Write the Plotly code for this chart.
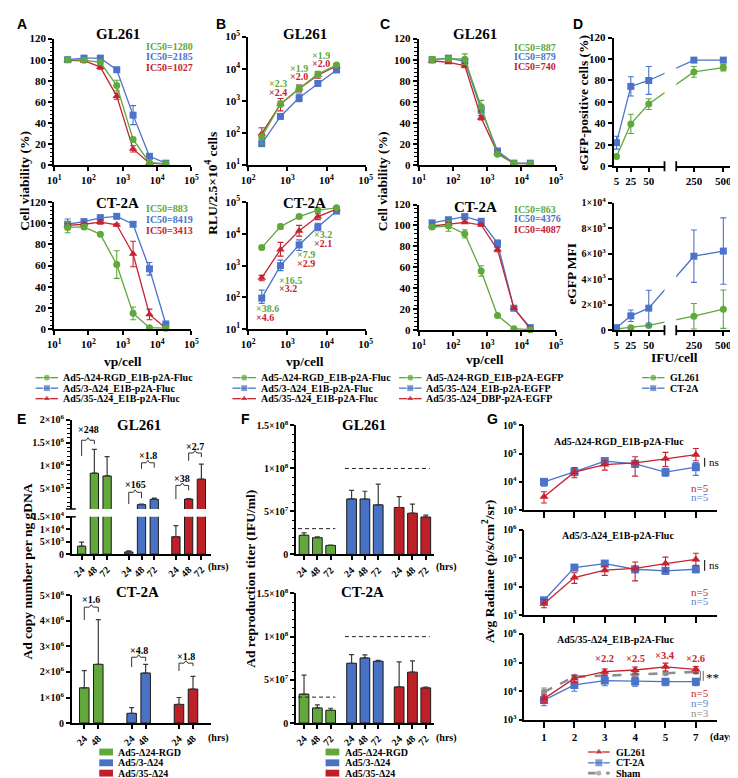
import plotly.graph_objects as go

W, H = 738, 778
def px(x): return x / W
def py(y): return 1 - y / H

SERIF = "Liberation Serif"
SANS = "Liberation Sans"
GREEN = "#5FA83B"
BLUE = "#4B73C9"
RED = "#C62230"
GRAY = "#8E8E8E"
BAR_GREEN = "#62A83A"
BAR_BLUE = "#4A72C4"
BAR_RED = "#BD2127"

# ---------------- data ----------------
vp_cell = [24.7, 74, 222, 667, 2000, 6000, 18000]
# A: Fluc viruses, cell viability (%)
a_gl_rgd = [100, 99.5, 97.5, 75.5, 24.5, 2.5, 1.5]
a_gl_rgd_e = [1, 1, 2, 5, 2, 0.5, 0.5]
a_gl_ad53 = [100, 101.5, 101.5, 90.5, 47.5, 8.5, 2]
a_gl_ad53_e = [1, 1, 1.5, 2, 9, 1, 0.5]
a_gl_ad535 = [99.5, 99, 93, 65.5, 15.5, 2, 1]
a_gl_ad535_e = [1, 1, 2, 3, 3, 0.5, 0.5]
a_ct_rgd = [96, 96.5, 89.5, 61, 15, 1.5, 1]
a_ct_rgd_e = [5, 2, 1, 13, 6, 0.5, 0.5]
a_ct_ad53 = [99, 101.5, 105, 106.5, 99, 57, 5]
a_ct_ad53_e = [5, 2, 3, 2, 2, 6, 1]
a_ct_ad535 = [98, 99, 101, 98.5, 71, 14, 1]
a_ct_ad535_e = [2, 1, 2, 1, 12, 5, 0.5]
a_ic50_gl = ["IC50=1280", "IC50=2185", "IC50=1027"]
a_ic50_ct = ["IC50=883", "IC50=8419", "IC50=3413"]

# B: luciferase RLU
vp_cell_b = [222, 667, 2000, 6000, 18000]
b_gl_rgd = [76, 800, 2450, 6800, 13000]
b_gl_rgd_up = [70, 200, 600, 1500, 1500]
b_gl_rgd_dn = [30, 150, 500, 1200, 1500]
b_gl_ad535 = [96, 790, 2400, 6300, 12300]
b_gl_ad535_up = [50, 400, 700, 1500, 1500]
b_gl_ad535_dn = [30, 300, 500, 1200, 1500]
b_gl_ad53 = [47, 330, 1250, 3500, 9200]
b_gl_ad53_up = [8, 40, 400, 800, 800]
b_gl_ad53_dn = [8, 40, 300, 600, 800]
b_ct_rgd = [3700, 17000, 35000, 56000, 66000]
b_ct_rgd_up = [500, 3000, 4000, 6000, 6000]
b_ct_rgd_dn = [400, 3000, 4000, 6000, 6000]
b_ct_ad535 = [415, 3200, 12500, 35000, 60000]
b_ct_ad535_up = [80, 2200, 6000, 8000, 6000]
b_ct_ad535_dn = [80, 1200, 4000, 7000, 6000]
b_ct_ad53 = [95, 1000, 4500, 16500, 52000]
b_ct_ad53_up = [75, 500, 2000, 5000, 5000]
b_ct_ad53_dn = [30, 300, 1500, 4000, 5000]
b_gl_fold_rgd = ["×2.3", "×1.9", "×1.9"]
b_gl_fold_ad535 = ["×2.4", "×2.0", "×2.0"]
b_ct_fold_rgd = ["×38.6", "×16.5", "×7.9", "×3.2"]
b_ct_fold_ad535 = ["×4.6", "×3.2", "×2.9", "×2.1"]

# C: EGFP viruses, cell viability (%)
c_gl_rgd = [100, 101, 100.5, 55.5, 10.5, 2, 1.5]
c_gl_rgd_e = [3, 2, 5, 6, 1, 0.5, 0.5]
c_gl_e1b = [100, 101.5, 98.5, 52.5, 13.5, 2, 2]
c_gl_e1b_e = [2, 1, 2, 3, 1.5, 0.5, 0.5]
c_gl_dbp = [99, 97.5, 94.5, 45, 11.5, 1.5, 1.5]
c_gl_dbp_e = [1, 1, 2, 2, 1, 0.5, 0.5]
c_ct_rgd = [98.5, 99.5, 92, 56.5, 14, 1.5, 0.5]
c_ct_rgd_e = [2, 5, 4, 5, 1, 0.5, 0.5]
c_ct_e1b = [102.5, 105.5, 108.5, 104, 83, 21, 2.5]
c_ct_e1b_e = [2, 1, 1, 1, 3, 1, 0.5]
c_ct_dbp = [99.5, 101.5, 103, 100.5, 77, 21, 1.5]
c_ct_dbp_e = [1, 1, 1, 1, 2, 1, 0.5]
c_ic50_gl = ["IC50=887", "IC50=879", "IC50=740"]
c_ic50_ct = ["IC50=863", "IC50=4376", "IC50=4087"]

# D: eGFP
ifu_cell = [5, 25, 50, 250, 500]
d_pos_gl = [9, 39.5, 58, 88, 92]
d_pos_gl_e = [1.5, 9, 5, 5, 3]
d_pos_ct = [22, 74.5, 80, 99, 99]
d_pos_ct_e = [6, 9, 13, 1, 1]
d_mfi_gl = [100, 200, 380, 1100, 1650]
d_mfi_gl_e = [50, 80, 150, 1000, 1500]
d_mfi_ct = [200, 1130, 1730, 5800, 6200]
d_mfi_ct_e = [100, 450, 1400, 2050, 2600]

# E: Ad copy number per ng gDNA
hrs3 = ["24", "48", "72"]
hrs2 = ["24", "48"]
e_gl = [[3200, 830000, 770000], [880, 145000, 260000], [7000, 265000, 700000]]
e_gl_e = [[1600, 520000, 420000], [450, 12000, 25000], [4500, 12000, 330000]]
e_ct = [[1.38e6, 2.3e6], [0.38e6, 1.96e6], [0.73e6, 1.33e6]]
e_ct_e = [[0.67e6, 1.75e6], [0.22e6, 0.34e6], [0.27e6, 0.5e6]]
e_gl_fold = ["×248", "×165", "×1.8", "×38", "×2.7"]
e_ct_fold = ["×1.6", "×4.8", "×1.8"]

# F: reproduction titer (IFU/ml)
f_gl = [[22.3e6, 19.5e6, 10.5e6], [64.6e6, 64.5e6, 57.7e6], [54.6e6, 48e6, 43.5e6]]
f_gl_e = [[2.7e6, 1e6, 0.5e6], [10e6, 9e6, 24e6], [12.7e6, 10.5e6, 2.3e6]]
f_ct = [[33.5e6, 17.5e6, 14.8e6], [69.2e6, 75.3e6, 71.5e6], [41.8e6, 58.9e6, 40.7e6]]
f_ct_e = [[22e6, 3.5e6, 2.3e6], [10e6, 3.5e6, 1e6], [29e6, 13e6, 0.8e6]]
f_ref = [3e7, 1e8, 1e8]

# G: in vivo radiance
days = ["1", "2", "3", "4", "5", "7"]
g1_gl = [3000, 22000, 41000, 47000, 65000, 91000]
g1_gl_up = [1500, 10000, 15000, 30000, 45000, 60000]
g1_gl_dn = [1200, 8000, 15000, 31000, 30000, 35000]
g1_ct = [10000, 22500, 54000, 43000, 22000, 33000]
g1_ct_up = [3000, 8000, 15000, 15000, 8000, 15000]
g1_ct_dn = [3000, 6000, 10000, 10000, 6000, 16000]
g2_gl = [2500, 21000, 38000, 44000, 65000, 91000]
g2_gl_up = [1000, 10000, 15000, 30000, 45000, 60000]
g2_gl_dn = [700, 8000, 13000, 28000, 30000, 35000]
g2_ct = [3300, 47000, 65000, 41000, 36000, 41000]
g2_ct_up = [800, 8000, 8000, 10000, 8000, 10000]
g2_ct_dn = [800, 8000, 8000, 10000, 8000, 10000]
g3_gl = [5500, 28000, 48000, 55000, 71000, 58000]
g3_gl_up = [2000, 8000, 12000, 15000, 25000, 15000]
g3_gl_dn = [1500, 8000, 12000, 15000, 20000, 15000]
g3_ct = [4900, 16500, 23500, 22000, 21500, 21500]
g3_ct_up = [2000, 9000, 10000, 8000, 6000, 6000]
g3_ct_dn = [1800, 6500, 8000, 7000, 6000, 6000]
g3_sham = [9500, 32000, 35000, 38000, 42000, 48000]
g3_sham_up = [3500, 5000, 5000, 5000, 5000, 5000]
g3_sham_dn = [3000, 5000, 5000, 5000, 5000, 5000]
g3_fold = ["×2.2", "×2.5", "×3.4", "×2.6"]

fluc_names = ["Ad5-Δ24-RGD_E1B-p2A-Fluc", "Ad5/3-Δ24_E1B-p2A-Fluc", "Ad5/35-Δ24_E1B-p2A-Fluc"]
egfp_names = ["Ad5-Δ24-RGD_E1B-p2A-EGFP", "Ad5/35-Δ24_E1B-p2A-EGFP", "Ad5/35-Δ24_DBP-p2A-EGFP"]
bar_names = ["Ad5-Δ24-RGD", "Ad5/3-Δ24", "Ad5/35-Δ24"]

# ---------------- helpers ----------------
fig = go.Figure()
layout = {}
shapes = []
ann = []

def xn(i): return 'x' if i == 1 else f'x{i}'
def yn(i): return 'y' if i == 1 else f'y{i}'

TICKFONT = dict(family=SERIF, size=11, color='black', weight='bold')
def ax(**kw):
    d = dict(showline=True, linecolor='black', linewidth=1.8, ticks='outside', ticklen=4,
             tickwidth=1.5, tickcolor='black', showgrid=False, zeroline=False, fixedrange=True,
             tickfont=TICKFONT)
    d.update(kw)
    return d

def place(i, xd, yd, xa, ya):
    xk = 'xaxis' if i == 1 else f'xaxis{i}'
    yk = 'yaxis' if i == 1 else f'yaxis{i}'
    layout[xk] = dict(xa, domain=[px(xd[0]), px(xd[1])], anchor=yn(i))
    layout[yk] = dict(ya, domain=[py(yd[1]), py(yd[0])], anchor=xn(i))

def sup(e): return f"10<sup>{e}</sup>"

def T(x, y, s, size=10.5, color='black', bold=True, family=SERIF, xanchor='center',
      yanchor='middle', angle=0, xref='paper', yref='paper'):
    ann.append(dict(x=px(x) if xref == 'paper' else x, y=py(y) if yref == 'paper' else y,
                    text=s, showarrow=False, xref=xref, yref=yref, xanchor=xanchor,
                    yanchor=yanchor, textangle=angle, borderpad=0,
                    font=dict(family=family, size=size, color=color,
                              weight='bold' if bold else 'normal')))

def line_trace(i, x, y, color, symbol, size, up=None, dn=None, dash=None, width=1.3):
    ed = None
    if up is not None:
        ed = dict(type='data', array=up, arrayminus=dn if dn is not None else up,
                  symmetric=False, color=color, thickness=1.1, width=3)
    fig.add_trace(go.Scatter(x=x, y=y, mode='lines+markers',
                             line=dict(color=color, width=width, dash=dash),
                             marker=dict(symbol=symbol, size=size, color=color),
                             error_y=ed, xaxis=xn(i), yaxis=yn(i), cliponaxis=False,
                             showlegend=False, hoverinfo='skip'))

def bar_group(i, groups, errs, gap, width):
    cols = [BAR_GREEN, BAR_BLUE, BAR_RED]
    for g, (vals, er) in enumerate(zip(groups, errs)):
        xs = [g * gap + t for t in range(len(vals))]
        fig.add_trace(go.Bar(x=xs, y=vals, width=width,
                             marker=dict(color=cols[g], line=dict(color='#1a1a1a', width=1)),
                             error_y=dict(type='data', array=er, arrayminus=[0] * len(er),
                                          symmetric=False, color='#3a3a3a', thickness=1.2, width=2.5),
                             xaxis=xn(i), yaxis=yn(i), showlegend=False, hoverinfo='skip'))

def bar_ticks(groups, gap, labels):
    tv, tt = [], []
    for g, vals in enumerate(groups):
        for t in range(len(vals)):
            tv.append(g * gap + t)
            tt.append(labels[t])
    return tv, tt

def bracket(i, xa, xb, yb, la, lb):
    xm = (xa + xb) / 2
    d = 0.14
    path = (f"M {xa},{py(la)} L {xa},{py(yb)} L {xm - d},{py(yb)} L {xm},{py(yb - 2.5)} "
            f"L {xm + d},{py(yb)} L {xb},{py(yb)} L {xb},{py(lb)}")
    shapes.append(dict(type='path', path=path, xref=xn(i), yref='paper',
                       line=dict(color='#333333', width=1)))

def pline(x0, y0, x1, y1, color='black', width=1.2, xref='paper'):
    shapes.append(dict(type='line', x0=px(x0) if xref == 'paper' else x0, y0=py(y0),
                       x1=px(x1) if xref == 'paper' else x1, y1=py(y1), xref=xref, yref='paper',
                       line=dict(color=color, width=width)))

LOGX1 = dict(type='log', range=[1, 5], tickvals=[10, 100, 1e3, 1e4, 1e5],
             ticktext=[sup(e) for e in range(1, 6)])
VIAB_Y = dict(range=[0, 120], tickvals=[0, 20, 40, 60, 80, 100, 120],
              minor=dict(dtick=4, ticks='outside', ticklen=2.5, tickwidth=1, tickcolor='black'))

# ---------------- A ----------------
place(1, (40, 180), (23, 152), ax(**LOGX1), ax(**VIAB_Y))
place(2, (40, 180), (189.4, 319), ax(**LOGX1), ax(**VIAB_Y))
line_trace(1, vp_cell, a_gl_ad53, BLUE, 'square', 7, a_gl_ad53_e)
line_trace(1, vp_cell, a_gl_ad535, RED, 'triangle-up', 7.5, a_gl_ad535_e)
line_trace(1, vp_cell, a_gl_rgd, GREEN, 'circle', 7, a_gl_rgd_e)
line_trace(2, vp_cell, a_ct_ad53, BLUE, 'square', 7, a_ct_ad53_e)
line_trace(2, vp_cell, a_ct_ad535, RED, 'triangle-up', 7.5, a_ct_ad535_e)
line_trace(2, vp_cell, a_ct_rgd, GREEN, 'circle', 7, a_ct_rgd_e)

# ---------------- B ----------------
LOGXB = dict(type='log', range=[2, 5], tickvals=[100, 1e3, 1e4, 1e5], ticktext=[sup(e) for e in range(2, 6)])
LOGYB = dict(type='log', range=[1, 5], tickvals=[10, 100, 1e3, 1e4, 1e5], ticktext=[sup(e) for e in range(1, 6)])
place(3, (238, 358), (21, 152), ax(**LOGXB), ax(**LOGYB))
place(4, (238, 358), (189.5, 319), ax(**LOGXB), ax(**LOGYB))
line_trace(3, vp_cell_b, b_gl_ad53, BLUE, 'square', 7, b_gl_ad53_up, b_gl_ad53_dn)
line_trace(3, vp_cell_b, b_gl_ad535, RED, 'triangle-up', 7.5, b_gl_ad535_up, b_gl_ad535_dn)
line_trace(3, vp_cell_b, b_gl_rgd, GREEN, 'circle', 7, b_gl_rgd_up, b_gl_rgd_dn)
line_trace(4, vp_cell_b, b_ct_ad53, BLUE, 'square', 7, b_ct_ad53_up, b_ct_ad53_dn)
line_trace(4, vp_cell_b, b_ct_ad535, RED, 'triangle-up', 7.5, b_ct_ad535_up, b_ct_ad535_dn)
line_trace(4, vp_cell_b, b_ct_rgd, GREEN, 'circle', 7, b_ct_rgd_up, b_ct_rgd_dn)
FOLD = 10
for s1, s2, (lx, ly) in zip(b_gl_fold_rgd, b_gl_fold_ad535, [(258, 69), (280, 53.5), (302, 40)]):
    T(lx, ly, s1, FOLD, GREEN, xanchor='left')
    T(lx, ly + 8.5, s2, FOLD, RED, xanchor='left')
for s1, s2, (lx, ly) in zip(b_ct_fold_rgd, b_ct_fold_ad535, [(245, 298), (268, 269), (287, 243), (304, 223)]):
    T(lx, ly, s1, FOLD, GREEN, xanchor='left')
    T(lx, ly + 9, s2, FOLD, RED, xanchor='left')

# ---------------- C ----------------
place(5, (412, 552), (23, 152), ax(**LOGX1), ax(**VIAB_Y))
place(6, (412, 552), (192, 320), ax(**LOGX1), ax(**VIAB_Y))
line_trace(5, vp_cell, c_gl_e1b, BLUE, 'square', 7, c_gl_e1b_e)
line_trace(5, vp_cell, c_gl_dbp, RED, 'triangle-up', 7.5, c_gl_dbp_e)
line_trace(5, vp_cell, c_gl_rgd, GREEN, 'circle', 7, c_gl_rgd_e)
line_trace(6, vp_cell, c_ct_e1b, BLUE, 'square', 7, c_ct_e1b_e)
line_trace(6, vp_cell, c_ct_dbp, RED, 'triangle-up', 7.5, c_ct_dbp_e)
line_trace(6, vp_cell, c_ct_rgd, GREEN, 'circle', 7, c_ct_rgd_e)

# ---------------- D (broken x axis) ----------------
D_LEFT_MAX, D_RIGHT_MIN, D_GAP, D_RIGHT_SCALE = 72.0, 100.0, 16.37, 0.1644
def brk(v):
    return v if v <= D_LEFT_MAX else D_LEFT_MAX + D_GAP + (v - D_RIGHT_MIN) * D_RIGHT_SCALE
d_x = [brk(v) for v in ifu_cell]
DX = dict(range=[0.9, brk(583)], tickvals=d_x, ticktext=[str(v) for v in ifu_cell])
place(7, (611, 733), (22, 153), ax(**DX), ax(range=[0, 120], tickvals=[0, 20, 40, 60, 80, 100, 120]))
mfi_ticks = [0, 2000, 4000, 6000, 8000, 10000]
place(8, (611, 733), (190, 320), ax(**DX),
      ax(range=[0, 10000], tickvals=mfi_ticks, tickfont=dict(TICKFONT, size=10),
         ticktext=["0", "2×10<sup>3</sup>", "4×10<sup>3</sup>", "6×10<sup>3</sup>", "8×10<sup>3</sup>", "1×10<sup>4</sup>"]))
line_trace(7, d_x, d_pos_gl, GREEN, 'circle', 7, d_pos_gl_e)
line_trace(7, d_x, d_pos_ct, BLUE, 'square', 7, d_pos_ct_e)
line_trace(8, d_x, d_mfi_gl, GREEN, 'circle', 7, d_mfi_gl_e)
line_trace(8, d_x, d_mfi_ct, BLUE, 'square', 7, d_mfi_ct_e)
for i, (top, bot) in [(7, (20, 153)), (8, (188, 320))]:
    shapes.append(dict(type='rect', xref=xn(i), yref='paper', x0=D_LEFT_MAX, x1=D_LEFT_MAX + D_GAP,
                       y0=py(bot + 3), y1=py(top), fillcolor='white', line=dict(width=0), layer='above'))
    for xb in (D_LEFT_MAX, D_LEFT_MAX + D_GAP):
        shapes.append(dict(type='line', xref=xn(i), yref='paper', x0=xb, x1=xb,
                           y0=py(bot - 5), y1=py(bot + 5), line=dict(color='black', width=1.8)))

# ---------------- E ----------------
E1_GAP, E2_GAP = 3.7, 3.38
ETICK = dict(TICKFONT, size=10)
tv, tt = bar_ticks(e_gl, E1_GAP, hrs3)
place(9, (58, 200), (411, 502),
      dict(range=[-0.77, 10.15], showline=False, showticklabels=False, ticks='', showgrid=False,
           zeroline=False, fixedrange=True),
      ax(range=[5e4, 2e6], tickvals=[5e5, 1e6, 1.5e6, 2e6],
         ticktext=["5×10<sup>5</sup>", "1×10<sup>6</sup>", "1.5×10<sup>6</sup>", "2×10<sup>6</sup>"],
         tickfont=ETICK,
         minor=dict(dtick=1e5, ticks='outside', ticklen=2.5, tickwidth=1, tickcolor='black')))
place(10, (58, 200), (510, 548),
      ax(range=[-0.77, 10.15], tickvals=tv, ticktext=tt, tickangle=-45, tickfont=ETICK),
      ax(range=[0, 1.5e4], tickvals=[0, 5e3, 1e4, 1.5e4],
         ticktext=["0", "5×10<sup>3</sup>", "1×10<sup>4</sup>", "1.5×10<sup>4</sup>"], tickfont=ETICK))
bar_group(9, e_gl, e_gl_e, E1_GAP, 0.65)
bar_group(10, e_gl, e_gl_e, E1_GAP, 0.65)
pline(52, 502, 62, 502, width=1.5)
pline(52, 510, 62, 510, width=1.5)
tv2, tt2 = bar_ticks(e_ct, E2_GAP, hrs2)
place(11, (58, 200), (590, 720),
      ax(range=[-0.89, 9.04], tickvals=tv2, ticktext=tt2, tickangle=-45, tickfont=ETICK),
      ax(range=[0, 5e6], tickvals=[0, 1e6, 2e6, 3e6, 4e6, 5e6],
         ticktext=["0"] + [f"{k}×10<sup>6</sup>" for k in range(1, 6)], tickfont=ETICK))
bar_group(11, e_ct, e_ct_e, E2_GAP, 0.68)
# brackets GL261: (x a, x b, bracket y, leg a, leg b, label y)
e_gl_br = [(0, 1, 432, 448, 436, 421), (E1_GAP, E1_GAP + 1, 485, 497, 491, 477),
           (E1_GAP + 1, E1_GAP + 2, 455, 461, 460, 448), (2 * E1_GAP, 2 * E1_GAP + 1, 478, 492, 483, 471),
           (2 * E1_GAP + 1, 2 * E1_GAP + 2, 445, 453, 449, 438)]
for lab, (xa, xb, yb, la, lb, ly) in zip(e_gl_fold, e_gl_br):
    bracket(10, xa, xb, yb, la, lb)
    T((xa + xb) / 2, ly, lab, 10, xref=xn(10))
e_ct_br = [(0, 1, 602, 615, 607, 594), (E2_GAP, E2_GAP + 1, 653, 663, 657, 646),
           (2 * E2_GAP, 2 * E2_GAP + 1, 659, 667, 662, 652)]
for lab, (xa, xb, yb, la, lb, ly) in zip(e_ct_fold, e_ct_br):
    bracket(11, xa, xb, yb, la, lb)
    T((xa + xb) / 2, ly, lab, 10, xref=xn(11))

# ---------------- F ----------------
F_GAP = 3.57
tvf, ttf = bar_ticks(f_gl, F_GAP, hrs3)
FY = dict(range=[0, 1.5e8], tickvals=[0, 5e7, 1e8, 1.5e8],
          ticktext=["0", "5×10<sup>7</sup>", "1×10<sup>8</sup>", "1.5×10<sup>8</sup>"],
          tickfont=ETICK,
          minor=dict(dtick=1e7, ticks='outside', ticklen=2.5, tickwidth=1, tickcolor='black'))
FX = dict(range=[-0.59, 9.78], tickvals=tvf, ticktext=ttf, tickangle=-45, tickfont=ETICK)
place(12, (287, 428), (417, 548.3), ax(**FX), ax(**FY))
place(13, (287, 428), (588, 720), ax(**FX), ax(**FY))
bar_group(12, f_gl, f_gl_e, F_GAP, 0.73)
bar_group(13, f_ct, f_ct_e, F_GAP, 0.73)
for i in (12, 13):
    fig.add_trace(go.Scatter(x=[-0.45, 2.35], y=[f_ref[0]] * 2, mode='lines',
                             line=dict(color='#222', width=1, dash='4px,3px'),
                             xaxis=xn(i), yaxis=yn(i), showlegend=False, hoverinfo='skip'))
    fig.add_trace(go.Scatter(x=[F_GAP - 0.5, 2 * F_GAP + 2.3], y=[f_ref[1], f_ref[2]], mode='lines',
                             line=dict(color='#222', width=1, dash='4px,3px'),
                             xaxis=xn(i), yaxis=yn(i), showlegend=False, hoverinfo='skip'))

# ---------------- G ----------------
GX = dict(type='category', categoryarray=days, range=[-0.645, 5.71], ticklen=6)
GY = dict(type='log', range=[3, 6], tickvals=[1e3, 1e4, 1e5, 1e6], ticktext=[sup(e) for e in range(3, 7)],
          tickfont=ETICK)
place(14, (520, 717), (416.7, 503.3), ax(**GX, showticklabels=False), ax(**GY))
place(15, (520, 717), (523.3, 610), ax(**GX, showticklabels=False), ax(**GY))
place(16, (520, 717), (629.3, 716.7), ax(**GX), ax(**GY))
line_trace(14, days, g1_ct, BLUE, 'square', 8, g1_ct_up, g1_ct_dn)
line_trace(14, days, g1_gl, RED, 'triangle-up', 8, g1_gl_up, g1_gl_dn)
line_trace(15, days, g2_ct, BLUE, 'square', 8, g2_ct_up, g2_ct_dn)
line_trace(15, days, g2_gl, RED, 'triangle-up', 8, g2_gl_up, g2_gl_dn)
line_trace(16, days, g3_sham, GRAY, 'circle', 6, g3_sham_up, g3_sham_dn, dash='dash', width=2.6)
line_trace(16, days, g3_ct, BLUE, 'square', 8, g3_ct_up, g3_ct_dn)
line_trace(16, days, g3_gl, RED, 'triangle-up', 8, g3_gl_up, g3_gl_dn)
for k, (lab, yy) in enumerate(zip(g3_fold, [654, 654, 651.5, 654])):
    T(2 + k, yy, lab, 10.5, RED, xref=xn(16))
T(617, 433, "Ad5-Δ24-RGD_E1B-p2A-Fluc", 10)
T(615, 529, "Ad5/3-Δ24_E1B-p2A-Fluc", 10)
T(613, 635, "Ad5/35-Δ24_E1B-p2A-Fluc", 10)
pline(704, 450, 704, 459, width=1)
T(707, 454, "ns", 11, bold=False, xanchor='left')
pline(704, 554, 704, 565, width=1)
T(707, 559, "ns", 11, bold=False, xanchor='left')
pline(699.5, 667, 699.5, 677, color='#666', width=1)
pline(702.5, 667, 702.5, 677, color='#666', width=1)
T(704, 674, "**", 13, bold=False, xanchor='left')
LBLUE = "#5B7FD1"
NS = 11
T(699.5, 480.5, "n=5", NS, RED, bold=False)
T(699.5, 490, "n=5", NS, LBLUE, bold=False)
T(699.5, 586.5, "n=5", NS, RED, bold=False)
T(699.5, 596, "n=5", NS, LBLUE, bold=False)
T(699.5, 689.5, "n=5", NS, RED, bold=False)
T(699.5, 699.5, "n=9", NS, LBLUE, bold=False)
T(699.5, 709.5, "n=3", NS, GRAY, bold=False)

# ---------------- legends (drawn on a hidden overlay axis) ----------------
layout['xaxis17'] = dict(domain=[0, 1], range=[0, W], visible=False, anchor='y17', fixedrange=True)
layout['yaxis17'] = dict(domain=[0, 1], range=[H, 0], visible=False, anchor='x17', fixedrange=True)

def legend_glyph(x0, x1, y, color, symbol, size, dash=None, width=1.3):
    fig.add_trace(go.Scatter(x=[x0, (x0 + x1) / 2, x1], y=[y, y, y], mode='lines+markers',
                             line=dict(color=color, width=width, dash=dash),
                             marker=dict(symbol=symbol, size=[0, size, 0], color=color),
                             xaxis='x17', yaxis='y17', cliponaxis=False, showlegend=False,
                             hoverinfo='skip'))

line_series = [(GREEN, 'circle', 7), (BLUE, 'square', 7), (RED, 'triangle-up', 7.5)]
rows3 = [368.3, 379, 389.7]
for (x0, x1, tx), names in [((21, 44, 48), fluc_names), ((222, 246, 250), fluc_names),
                            ((392, 415, 419), egfp_names)]:
    for (col, sym, sz), nm, ry in zip(line_series, names, rows3):
        legend_glyph(x0, x1, ry, col, sym, sz)
        T(tx, ry, nm, 10, xanchor='left')
for (col, sym, sz), nm, ry in zip(line_series[:2], ["GL261", "CT-2A"], rows3[:2]):
    legend_glyph(640, 663, ry, col, sym, sz)
    T(668, ry, nm, 10, xanchor='left')
g_rows = [749.5, 760.5, 771]
g_series = [(RED, 'triangle-up', 8, None, 1.3), (BLUE, 'square', 8, None, 1.3), (GRAY, 'circle', 6, 'dash', 2.6)]
for (col, sym, sz, ds, wd), nm, ry in zip(g_series, ["GL261", "CT-2A", "Sham"], g_rows):
    legend_glyph(585, 607, ry, col, sym, sz, ds, wd)
    T(612, ry, nm, 10, xanchor='left')
for (rx0, rx1, tx) in [(86, 100, 104), (317, 331, 336)]:
    for col, nm, ry in zip([BAR_GREEN, BAR_BLUE, BAR_RED], bar_names, g_rows):
        shapes.append(dict(type='rect', xref='paper', yref='paper', x0=px(rx0), x1=px(rx1),
                           y0=py(ry + 3.5), y1=py(ry - 3.5), fillcolor=col, line=dict(width=0)))
        T(tx, ry, nm, 10, xanchor='left')

# ---------------- titles / labels ----------------
for s, x, y in [("A", 7, 8), ("B", 210, 8), ("C", 378, 8), ("D", 575, 8), ("E", 7, 410), ("F", 235, 410), ("G", 487, 410)]:
    T(x, y, s, 14, family=SANS)
for s, x, y in [("GL261", 105, 18), ("CT-2A", 105, 190), ("GL261", 296, 18), ("CT-2A", 296, 190),
                ("GL261", 470, 18), ("CT-2A", 470, 194), ("GL261", 127, 417), ("CT-2A", 125, 587),
                ("GL261", 356, 417), ("CT-2A", 355, 587)]:
    T(x, y, s, 15)
ic_cols = [GREEN, BLUE, RED]
for labs, lx, rows in [(a_ic50_gl, 133, [31, 41.7, 52.3]), (a_ic50_ct, 133, [196, 207.3, 218.3]),
                       (c_ic50_gl, 508, [31.7, 41.7, 51.7]), (c_ic50_ct, 508, [196.7, 206.7, 217.3])]:
    for lab, col, ry in zip(labs, ic_cols, rows):
        T(lx, ry, lab, 10, col, xanchor='left')

T(10, 168, "Cell viability (%)", 13.5, angle=-90)
T(110, 352, "vp/cell", 13.5)
T(201, 170, "RLU/2.5×10<sup>4</sup> cells", 13.5, angle=-90)
T(296, 352, "vp/cell", 13.5)
T(376, 168, "Cell viability (%)", 13.5, angle=-90)
T(480, 350, "vp/cell", 13.5)
T(580, 88, "eGFP-positive cells (%)", 13.5, angle=-90)
T(568, 262, "eGFP MFI", 13.5, angle=-90)
T(673, 348, "IFU/cell", 13.5)
T(13, 566, "Ad copy number per ng gDNA", 13.5, angle=-90)
T(241, 573, "Ad reproduction titer (IFU/ml)", 13.5, angle=-90)
T(484, 566, "Avg Radiane (p/s/cm<sup>2</sup>/sr)", 13.5, angle=-90)
for x, y in [(208, 561), (208, 735), (440, 561), (440, 735)]:
    T(x, y, "(hrs)", 10)
T(737, 734, "(days)", 10, xanchor='right')

fig.update_layout(width=W, height=H, margin=dict(l=0, r=0, t=0, b=0), showlegend=False,
                  plot_bgcolor='rgba(0,0,0,0)', paper_bgcolor='white', barmode='overlay',
                  shapes=shapes, annotations=ann, **layout)
fig.write_html("out.html")
